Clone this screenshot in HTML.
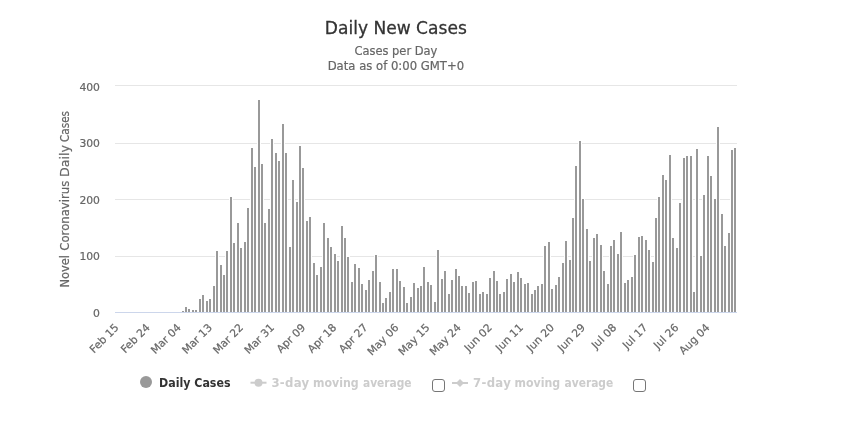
<!DOCTYPE html>
<html lang="en"><head><meta charset="utf-8"><title>Daily New Cases</title>
<style>html,body{margin:0;padding:0;background:#fff}body{width:850px;height:431px;overflow:hidden}svg{display:block}text{font-family:'DejaVu Sans','Liberation Sans',sans-serif}</style></head><body>
<svg width="850" height="431" viewBox="0 0 850 431">
<rect width="850" height="431" fill="#fff"/>
<g shape-rendering="crispEdges" fill="#e6e6e6">
<rect x="115" y="85" width="622" height="1"/>
<rect x="115" y="143" width="622" height="1"/>
<rect x="115" y="199" width="622" height="1"/>
<rect x="115" y="256" width="622" height="1"/>
</g>
<g shape-rendering="crispEdges" fill="#fff">
<rect x="181" y="310" width="4" height="2"/>
<rect x="184" y="306" width="4" height="6"/>
<rect x="187" y="308" width="4" height="4"/>
<rect x="191" y="309" width="4" height="3"/>
<rect x="194" y="309" width="4" height="3"/>
<rect x="198" y="298" width="4" height="14"/>
<rect x="201" y="294" width="4" height="18"/>
<rect x="205" y="300" width="4" height="12"/>
<rect x="208" y="298" width="4" height="14"/>
<rect x="212" y="285" width="4" height="27"/>
<rect x="215" y="250" width="4" height="62"/>
<rect x="219" y="264" width="4" height="48"/>
<rect x="222" y="274" width="4" height="38"/>
<rect x="225" y="250" width="4" height="62"/>
<rect x="229" y="196" width="4" height="116"/>
<rect x="232" y="242" width="4" height="70"/>
<rect x="236" y="222" width="4" height="90"/>
<rect x="239" y="247" width="4" height="65"/>
<rect x="243" y="241" width="4" height="71"/>
<rect x="246" y="207" width="4" height="105"/>
<rect x="250" y="147" width="4" height="165"/>
<rect x="253" y="166" width="4" height="146"/>
<rect x="257" y="99" width="4" height="213"/>
<rect x="260" y="163" width="4" height="149"/>
<rect x="263" y="222" width="4" height="90"/>
<rect x="267" y="208" width="4" height="104"/>
<rect x="270" y="138" width="4" height="174"/>
<rect x="274" y="152" width="4" height="160"/>
<rect x="277" y="160" width="4" height="152"/>
<rect x="281" y="123" width="4" height="189"/>
<rect x="284" y="152" width="4" height="160"/>
<rect x="288" y="246" width="4" height="66"/>
<rect x="291" y="179" width="4" height="133"/>
<rect x="295" y="201" width="4" height="111"/>
<rect x="298" y="145" width="4" height="167"/>
<rect x="301" y="167" width="4" height="145"/>
<rect x="305" y="220" width="4" height="92"/>
<rect x="308" y="216" width="4" height="96"/>
<rect x="312" y="262" width="4" height="50"/>
<rect x="315" y="274" width="4" height="38"/>
<rect x="319" y="266" width="4" height="46"/>
<rect x="322" y="222" width="4" height="90"/>
<rect x="326" y="237" width="4" height="75"/>
<rect x="329" y="246" width="4" height="66"/>
<rect x="333" y="253" width="4" height="59"/>
<rect x="336" y="260" width="4" height="52"/>
<rect x="340" y="225" width="4" height="87"/>
<rect x="343" y="237" width="4" height="75"/>
<rect x="346" y="256" width="4" height="56"/>
<rect x="350" y="281" width="4" height="31"/>
<rect x="353" y="263" width="4" height="49"/>
<rect x="357" y="267" width="4" height="45"/>
<rect x="360" y="283" width="4" height="29"/>
<rect x="364" y="289" width="4" height="23"/>
<rect x="367" y="279" width="4" height="33"/>
<rect x="371" y="270" width="4" height="42"/>
<rect x="374" y="254" width="4" height="58"/>
<rect x="378" y="281" width="4" height="31"/>
<rect x="381" y="302" width="4" height="10"/>
<rect x="384" y="297" width="4" height="15"/>
<rect x="388" y="291" width="4" height="21"/>
<rect x="391" y="268" width="4" height="44"/>
<rect x="395" y="268" width="4" height="44"/>
<rect x="398" y="280" width="4" height="32"/>
<rect x="402" y="286" width="4" height="26"/>
<rect x="405" y="302" width="4" height="10"/>
<rect x="409" y="296" width="4" height="16"/>
<rect x="412" y="282" width="4" height="30"/>
<rect x="416" y="287" width="4" height="25"/>
<rect x="419" y="285" width="4" height="27"/>
<rect x="422" y="266" width="4" height="46"/>
<rect x="426" y="281" width="4" height="31"/>
<rect x="429" y="284" width="4" height="28"/>
<rect x="433" y="301" width="4" height="11"/>
<rect x="436" y="249" width="4" height="63"/>
<rect x="440" y="278" width="4" height="34"/>
<rect x="443" y="270" width="4" height="42"/>
<rect x="447" y="293" width="4" height="19"/>
<rect x="450" y="279" width="4" height="33"/>
<rect x="454" y="268" width="4" height="44"/>
<rect x="457" y="275" width="4" height="37"/>
<rect x="460" y="285" width="4" height="27"/>
<rect x="464" y="285" width="4" height="27"/>
<rect x="467" y="292" width="4" height="20"/>
<rect x="471" y="281" width="4" height="31"/>
<rect x="474" y="280" width="4" height="32"/>
<rect x="478" y="293" width="4" height="19"/>
<rect x="481" y="291" width="4" height="21"/>
<rect x="485" y="293" width="4" height="19"/>
<rect x="488" y="277" width="4" height="35"/>
<rect x="492" y="270" width="4" height="42"/>
<rect x="495" y="280" width="4" height="32"/>
<rect x="498" y="293" width="4" height="19"/>
<rect x="502" y="291" width="4" height="21"/>
<rect x="505" y="278" width="4" height="34"/>
<rect x="509" y="273" width="4" height="39"/>
<rect x="512" y="281" width="4" height="31"/>
<rect x="516" y="271" width="4" height="41"/>
<rect x="519" y="277" width="4" height="35"/>
<rect x="523" y="283" width="4" height="29"/>
<rect x="526" y="282" width="4" height="30"/>
<rect x="530" y="293" width="4" height="19"/>
<rect x="533" y="289" width="4" height="23"/>
<rect x="536" y="285" width="4" height="27"/>
<rect x="540" y="283" width="4" height="29"/>
<rect x="543" y="245" width="4" height="67"/>
<rect x="547" y="241" width="4" height="71"/>
<rect x="550" y="288" width="4" height="24"/>
<rect x="554" y="284" width="4" height="28"/>
<rect x="557" y="276" width="4" height="36"/>
<rect x="561" y="262" width="4" height="50"/>
<rect x="564" y="240" width="4" height="72"/>
<rect x="568" y="259" width="4" height="53"/>
<rect x="571" y="217" width="4" height="95"/>
<rect x="574" y="165" width="4" height="147"/>
<rect x="578" y="140" width="4" height="172"/>
<rect x="581" y="198" width="4" height="114"/>
<rect x="585" y="228" width="4" height="84"/>
<rect x="588" y="260" width="4" height="52"/>
<rect x="592" y="237" width="4" height="75"/>
<rect x="595" y="233" width="4" height="79"/>
<rect x="599" y="244" width="4" height="68"/>
<rect x="602" y="270" width="4" height="42"/>
<rect x="606" y="283" width="4" height="29"/>
<rect x="609" y="245" width="4" height="67"/>
<rect x="612" y="239" width="4" height="73"/>
<rect x="616" y="253" width="4" height="59"/>
<rect x="619" y="231" width="4" height="81"/>
<rect x="623" y="282" width="4" height="30"/>
<rect x="626" y="279" width="4" height="33"/>
<rect x="630" y="276" width="4" height="36"/>
<rect x="633" y="254" width="4" height="58"/>
<rect x="637" y="236" width="4" height="76"/>
<rect x="640" y="235" width="4" height="77"/>
<rect x="644" y="239" width="4" height="73"/>
<rect x="647" y="249" width="4" height="63"/>
<rect x="651" y="261" width="4" height="51"/>
<rect x="654" y="217" width="4" height="95"/>
<rect x="657" y="196" width="4" height="116"/>
<rect x="661" y="174" width="4" height="138"/>
<rect x="664" y="179" width="4" height="133"/>
<rect x="668" y="154" width="4" height="158"/>
<rect x="671" y="237" width="4" height="75"/>
<rect x="675" y="247" width="4" height="65"/>
<rect x="678" y="202" width="4" height="110"/>
<rect x="682" y="157" width="4" height="155"/>
<rect x="685" y="155" width="4" height="157"/>
<rect x="689" y="155" width="4" height="157"/>
<rect x="692" y="291" width="4" height="21"/>
<rect x="695" y="148" width="4" height="164"/>
<rect x="699" y="255" width="4" height="57"/>
<rect x="702" y="194" width="4" height="118"/>
<rect x="706" y="155" width="4" height="157"/>
<rect x="709" y="175" width="4" height="137"/>
<rect x="713" y="198" width="4" height="114"/>
<rect x="716" y="126" width="4" height="186"/>
<rect x="720" y="213" width="4" height="99"/>
<rect x="723" y="245" width="4" height="67"/>
<rect x="727" y="232" width="4" height="80"/>
<rect x="730" y="149" width="4" height="163"/>
<rect x="733" y="147" width="4" height="165"/>
</g>
<g shape-rendering="crispEdges" fill="#999">
<rect x="182" y="311" width="2" height="1"/>
<rect x="185" y="307" width="2" height="5"/>
<rect x="188" y="309" width="2" height="3"/>
<rect x="192" y="310" width="2" height="2"/>
<rect x="195" y="310" width="2" height="2"/>
<rect x="199" y="299" width="2" height="13"/>
<rect x="202" y="295" width="2" height="17"/>
<rect x="206" y="301" width="2" height="11"/>
<rect x="209" y="299" width="2" height="13"/>
<rect x="213" y="286" width="2" height="26"/>
<rect x="216" y="251" width="2" height="61"/>
<rect x="220" y="265" width="2" height="47"/>
<rect x="223" y="275" width="2" height="37"/>
<rect x="226" y="251" width="2" height="61"/>
<rect x="230" y="197" width="2" height="115"/>
<rect x="233" y="243" width="2" height="69"/>
<rect x="237" y="223" width="2" height="89"/>
<rect x="240" y="248" width="2" height="64"/>
<rect x="244" y="242" width="2" height="70"/>
<rect x="247" y="208" width="2" height="104"/>
<rect x="251" y="148" width="2" height="164"/>
<rect x="254" y="167" width="2" height="145"/>
<rect x="258" y="100" width="2" height="212"/>
<rect x="261" y="164" width="2" height="148"/>
<rect x="264" y="223" width="2" height="89"/>
<rect x="268" y="209" width="2" height="103"/>
<rect x="271" y="139" width="2" height="173"/>
<rect x="275" y="153" width="2" height="159"/>
<rect x="278" y="161" width="2" height="151"/>
<rect x="282" y="124" width="2" height="188"/>
<rect x="285" y="153" width="2" height="159"/>
<rect x="289" y="247" width="2" height="65"/>
<rect x="292" y="180" width="2" height="132"/>
<rect x="296" y="202" width="2" height="110"/>
<rect x="299" y="146" width="2" height="166"/>
<rect x="302" y="168" width="2" height="144"/>
<rect x="306" y="221" width="2" height="91"/>
<rect x="309" y="217" width="2" height="95"/>
<rect x="313" y="263" width="2" height="49"/>
<rect x="316" y="275" width="2" height="37"/>
<rect x="320" y="267" width="2" height="45"/>
<rect x="323" y="223" width="2" height="89"/>
<rect x="327" y="238" width="2" height="74"/>
<rect x="330" y="247" width="2" height="65"/>
<rect x="334" y="254" width="2" height="58"/>
<rect x="337" y="261" width="2" height="51"/>
<rect x="341" y="226" width="2" height="86"/>
<rect x="344" y="238" width="2" height="74"/>
<rect x="347" y="257" width="2" height="55"/>
<rect x="351" y="282" width="2" height="30"/>
<rect x="354" y="264" width="2" height="48"/>
<rect x="358" y="268" width="2" height="44"/>
<rect x="361" y="284" width="2" height="28"/>
<rect x="365" y="290" width="2" height="22"/>
<rect x="368" y="280" width="2" height="32"/>
<rect x="372" y="271" width="2" height="41"/>
<rect x="375" y="255" width="2" height="57"/>
<rect x="379" y="282" width="2" height="30"/>
<rect x="382" y="303" width="2" height="9"/>
<rect x="385" y="298" width="2" height="14"/>
<rect x="389" y="292" width="2" height="20"/>
<rect x="392" y="269" width="2" height="43"/>
<rect x="396" y="269" width="2" height="43"/>
<rect x="399" y="281" width="2" height="31"/>
<rect x="403" y="287" width="2" height="25"/>
<rect x="406" y="303" width="2" height="9"/>
<rect x="410" y="297" width="2" height="15"/>
<rect x="413" y="283" width="2" height="29"/>
<rect x="417" y="288" width="2" height="24"/>
<rect x="420" y="286" width="2" height="26"/>
<rect x="423" y="267" width="2" height="45"/>
<rect x="427" y="282" width="2" height="30"/>
<rect x="430" y="285" width="2" height="27"/>
<rect x="434" y="302" width="2" height="10"/>
<rect x="437" y="250" width="2" height="62"/>
<rect x="441" y="279" width="2" height="33"/>
<rect x="444" y="271" width="2" height="41"/>
<rect x="448" y="294" width="2" height="18"/>
<rect x="451" y="280" width="2" height="32"/>
<rect x="455" y="269" width="2" height="43"/>
<rect x="458" y="276" width="2" height="36"/>
<rect x="461" y="286" width="2" height="26"/>
<rect x="465" y="286" width="2" height="26"/>
<rect x="468" y="293" width="2" height="19"/>
<rect x="472" y="282" width="2" height="30"/>
<rect x="475" y="281" width="2" height="31"/>
<rect x="479" y="294" width="2" height="18"/>
<rect x="482" y="292" width="2" height="20"/>
<rect x="486" y="294" width="2" height="18"/>
<rect x="489" y="278" width="2" height="34"/>
<rect x="493" y="271" width="2" height="41"/>
<rect x="496" y="281" width="2" height="31"/>
<rect x="499" y="294" width="2" height="18"/>
<rect x="503" y="292" width="2" height="20"/>
<rect x="506" y="279" width="2" height="33"/>
<rect x="510" y="274" width="2" height="38"/>
<rect x="513" y="282" width="2" height="30"/>
<rect x="517" y="272" width="2" height="40"/>
<rect x="520" y="278" width="2" height="34"/>
<rect x="524" y="284" width="2" height="28"/>
<rect x="527" y="283" width="2" height="29"/>
<rect x="531" y="294" width="2" height="18"/>
<rect x="534" y="290" width="2" height="22"/>
<rect x="537" y="286" width="2" height="26"/>
<rect x="541" y="284" width="2" height="28"/>
<rect x="544" y="246" width="2" height="66"/>
<rect x="548" y="242" width="2" height="70"/>
<rect x="551" y="289" width="2" height="23"/>
<rect x="555" y="285" width="2" height="27"/>
<rect x="558" y="277" width="2" height="35"/>
<rect x="562" y="263" width="2" height="49"/>
<rect x="565" y="241" width="2" height="71"/>
<rect x="569" y="260" width="2" height="52"/>
<rect x="572" y="218" width="2" height="94"/>
<rect x="575" y="166" width="2" height="146"/>
<rect x="579" y="141" width="2" height="171"/>
<rect x="582" y="199" width="2" height="113"/>
<rect x="586" y="229" width="2" height="83"/>
<rect x="589" y="261" width="2" height="51"/>
<rect x="593" y="238" width="2" height="74"/>
<rect x="596" y="234" width="2" height="78"/>
<rect x="600" y="245" width="2" height="67"/>
<rect x="603" y="271" width="2" height="41"/>
<rect x="607" y="284" width="2" height="28"/>
<rect x="610" y="246" width="2" height="66"/>
<rect x="613" y="240" width="2" height="72"/>
<rect x="617" y="254" width="2" height="58"/>
<rect x="620" y="232" width="2" height="80"/>
<rect x="624" y="283" width="2" height="29"/>
<rect x="627" y="280" width="2" height="32"/>
<rect x="631" y="277" width="2" height="35"/>
<rect x="634" y="255" width="2" height="57"/>
<rect x="638" y="237" width="2" height="75"/>
<rect x="641" y="236" width="2" height="76"/>
<rect x="645" y="240" width="2" height="72"/>
<rect x="648" y="250" width="2" height="62"/>
<rect x="652" y="262" width="2" height="50"/>
<rect x="655" y="218" width="2" height="94"/>
<rect x="658" y="197" width="2" height="115"/>
<rect x="662" y="175" width="2" height="137"/>
<rect x="665" y="180" width="2" height="132"/>
<rect x="669" y="155" width="2" height="157"/>
<rect x="672" y="238" width="2" height="74"/>
<rect x="676" y="248" width="2" height="64"/>
<rect x="679" y="203" width="2" height="109"/>
<rect x="683" y="158" width="2" height="154"/>
<rect x="686" y="156" width="2" height="156"/>
<rect x="690" y="156" width="2" height="156"/>
<rect x="693" y="292" width="2" height="20"/>
<rect x="696" y="149" width="2" height="163"/>
<rect x="700" y="256" width="2" height="56"/>
<rect x="703" y="195" width="2" height="117"/>
<rect x="707" y="156" width="2" height="156"/>
<rect x="710" y="176" width="2" height="136"/>
<rect x="714" y="199" width="2" height="113"/>
<rect x="717" y="127" width="2" height="185"/>
<rect x="721" y="214" width="2" height="98"/>
<rect x="724" y="246" width="2" height="66"/>
<rect x="728" y="233" width="2" height="79"/>
<rect x="731" y="150" width="2" height="162"/>
<rect x="734" y="148" width="2" height="164"/>
</g>
<rect x="115" y="312" width="622" height="1" fill="#ccd6eb" shape-rendering="crispEdges"/>
<text x="395.8" y="34" text-anchor="middle" font-size="18" fill="#333" stroke="#333" stroke-width="0.3" textLength="142" lengthAdjust="spacingAndGlyphs">Daily New Cases</text>
<text x="395.9" y="54.7" text-anchor="middle" font-size="12" fill="#666" stroke="#666" stroke-width="0.2" textLength="83" lengthAdjust="spacingAndGlyphs">Cases per Day</text>
<text x="395.9" y="70" text-anchor="middle" font-size="12" fill="#666" stroke="#666" stroke-width="0.2" textLength="136.5" lengthAdjust="spacingAndGlyphs">Data as of 0:00 GMT+0</text>
<text transform="translate(69,287.5) rotate(-90)" font-size="12" fill="#666" stroke="#666" stroke-width="0.2"><tspan x="0" textLength="32.4" lengthAdjust="spacingAndGlyphs">Novel</tspan> <tspan x="36.8" textLength="70" lengthAdjust="spacingAndGlyphs">Coronavirus</tspan> <tspan x="110.6" textLength="32" lengthAdjust="spacingAndGlyphs">Daily</tspan> <tspan x="145.5" textLength="31" lengthAdjust="spacingAndGlyphs">Cases</tspan></text>
<text x="100" y="91.2" text-anchor="end" font-size="11" fill="#666" stroke="#666" stroke-width="0.2" textLength="20.6" lengthAdjust="spacingAndGlyphs">400</text>
<text x="100" y="147.2" text-anchor="end" font-size="11" fill="#666" stroke="#666" stroke-width="0.2" textLength="20.6" lengthAdjust="spacingAndGlyphs">300</text>
<text x="100" y="203.8" text-anchor="end" font-size="11" fill="#666" stroke="#666" stroke-width="0.2" textLength="20.6" lengthAdjust="spacingAndGlyphs">200</text>
<text x="100" y="260.2" text-anchor="end" font-size="11" fill="#666" stroke="#666" stroke-width="0.2" textLength="20.6" lengthAdjust="spacingAndGlyphs">100</text>
<text x="100" y="317.2" text-anchor="end" font-size="11" fill="#666" stroke="#666" stroke-width="0.2" textLength="6.9" lengthAdjust="spacingAndGlyphs">0</text>
<text transform="translate(119.43,328.3) rotate(-45)" text-anchor="end" font-size="10.7" fill="#666" stroke="#666" stroke-width="0.2">Feb 15</text>
<text transform="translate(150.53,328.3) rotate(-45)" text-anchor="end" font-size="10.7" fill="#666" stroke="#666" stroke-width="0.2">Feb 24</text>
<text transform="translate(181.63,328.3) rotate(-45)" text-anchor="end" font-size="10.7" fill="#666" stroke="#666" stroke-width="0.2">Mar 04</text>
<text transform="translate(212.73,328.3) rotate(-45)" text-anchor="end" font-size="10.7" fill="#666" stroke="#666" stroke-width="0.2">Mar 13</text>
<text transform="translate(243.83,328.3) rotate(-45)" text-anchor="end" font-size="10.7" fill="#666" stroke="#666" stroke-width="0.2">Mar 22</text>
<text transform="translate(274.93,328.3) rotate(-45)" text-anchor="end" font-size="10.7" fill="#666" stroke="#666" stroke-width="0.2">Mar 31</text>
<text transform="translate(306.03,328.3) rotate(-45)" text-anchor="end" font-size="10.7" fill="#666" stroke="#666" stroke-width="0.2">Apr 09</text>
<text transform="translate(337.13,328.3) rotate(-45)" text-anchor="end" font-size="10.7" fill="#666" stroke="#666" stroke-width="0.2">Apr 18</text>
<text transform="translate(368.23,328.3) rotate(-45)" text-anchor="end" font-size="10.7" fill="#666" stroke="#666" stroke-width="0.2">Apr 27</text>
<text transform="translate(399.33,328.3) rotate(-45)" text-anchor="end" font-size="10.7" fill="#666" stroke="#666" stroke-width="0.2">May 06</text>
<text transform="translate(430.43,328.3) rotate(-45)" text-anchor="end" font-size="10.7" fill="#666" stroke="#666" stroke-width="0.2">May 15</text>
<text transform="translate(461.53,328.3) rotate(-45)" text-anchor="end" font-size="10.7" fill="#666" stroke="#666" stroke-width="0.2">May 24</text>
<text transform="translate(492.63,328.3) rotate(-45)" text-anchor="end" font-size="10.7" fill="#666" stroke="#666" stroke-width="0.2">Jun 02</text>
<text transform="translate(523.73,328.3) rotate(-45)" text-anchor="end" font-size="10.7" fill="#666" stroke="#666" stroke-width="0.2">Jun 11</text>
<text transform="translate(554.83,328.3) rotate(-45)" text-anchor="end" font-size="10.7" fill="#666" stroke="#666" stroke-width="0.2">Jun 20</text>
<text transform="translate(585.93,328.3) rotate(-45)" text-anchor="end" font-size="10.7" fill="#666" stroke="#666" stroke-width="0.2">Jun 29</text>
<text transform="translate(617.03,328.3) rotate(-45)" text-anchor="end" font-size="10.7" fill="#666" stroke="#666" stroke-width="0.2">Jul 08</text>
<text transform="translate(648.13,328.3) rotate(-45)" text-anchor="end" font-size="10.7" fill="#666" stroke="#666" stroke-width="0.2">Jul 17</text>
<text transform="translate(679.23,328.3) rotate(-45)" text-anchor="end" font-size="10.7" fill="#666" stroke="#666" stroke-width="0.2">Jul 26</text>
<text transform="translate(710.33,328.3) rotate(-45)" text-anchor="end" font-size="10.7" fill="#666" stroke="#666" stroke-width="0.2">Aug 04</text>
<circle cx="146" cy="382" r="6" fill="#999"/>
<text x="159" y="387.3" font-size="11.7" font-weight="bold" fill="#333" textLength="71.5" lengthAdjust="spacingAndGlyphs">Daily Cases</text>
<rect x="250.5" y="381.7" width="16" height="2" fill="#ccc"/><circle cx="258.5" cy="382.7" r="4" fill="#ccc"/>
<text y="387.3" font-size="11.7" font-weight="bold" fill="#ccc"><tspan x="271.4" textLength="37.8" lengthAdjust="spacing">3-day</tspan> <tspan x="313.0" textLength="45.6" lengthAdjust="spacingAndGlyphs">moving</tspan> <tspan x="363.0" textLength="48.6" lengthAdjust="spacingAndGlyphs">average</tspan></text>
<rect x="432.5" y="379.5" width="12" height="12" rx="2.5" fill="#fff" stroke="#767676" stroke-width="1"/>
<rect x="452" y="382" width="16" height="2" fill="#ccc"/><path d="M460 379L464 383L460 387L456 383Z" fill="#ccc"/>
<text y="387.3" font-size="11.7" font-weight="bold" fill="#ccc"><tspan x="473.0" textLength="37.8" lengthAdjust="spacing">7-day</tspan> <tspan x="514.6" textLength="45.6" lengthAdjust="spacingAndGlyphs">moving</tspan> <tspan x="564.6" textLength="48.6" lengthAdjust="spacingAndGlyphs">average</tspan></text>
<rect x="633.5" y="379.5" width="12" height="12" rx="2.5" fill="#fff" stroke="#767676" stroke-width="1"/>
</svg></body></html>
